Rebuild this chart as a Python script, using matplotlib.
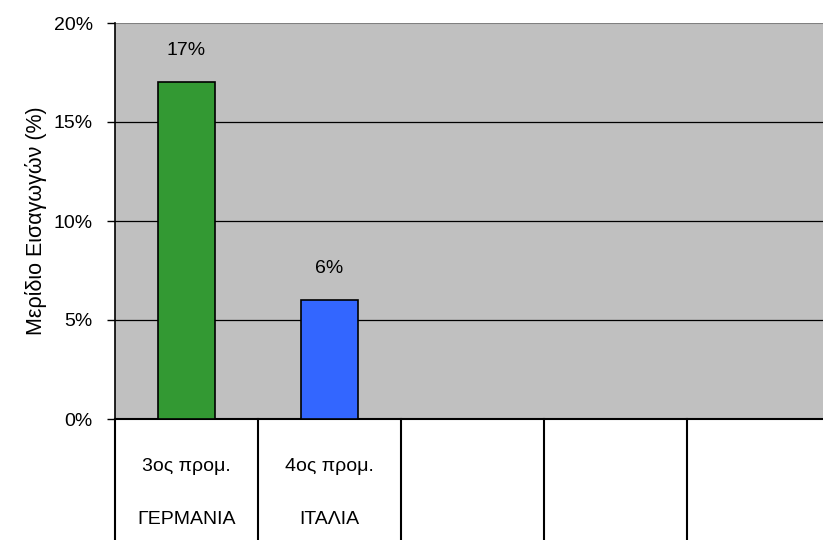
import matplotlib
matplotlib.use("Agg")
import matplotlib.pyplot as plt
from matplotlib.transforms import blended_transform_factory
import matplotlib.font_manager as fm

names = {f.name for f in fm.fontManager.ttflist}
fam = ['Liberation Sans Narrow'] if 'Liberation Sans Narrow' in names else ['Liberation Sans']
plt.rcParams['font.family'] = fam + ['DejaVu Sans']

# Data
periods = ["3ος προμ.", "4ος προμ.", "", "", ""]
countries = ["ΓΕΡΜΑΝΙΑ", "ΙΤΑΛΙΑ", "", "", ""]
shares = [17, 6]
bar_colors = ["#339933", "#3366FF"]
yticks = [0, 5, 10, 15, 20]
ytick_labels = ["0%", "5%", "10%", "15%", "20%"]
ylabel = "Μερίδιο Εισαγωγών (%)"

FS = 14
W, H = 823, 540
fig = plt.figure(figsize=(W/100, H/100), dpi=100)
left, right, top, bottom = 115, 830, 23, 419
ax = fig.add_axes([left/W, 1 - bottom/H, (right-left)/W, (bottom-top)/H])
ax.set_facecolor("#C0C0C0")
n = len(periods)
ax.set_xlim(-0.5, n - 0.5)
ax.set_ylim(0, 20)

for y in yticks[1:-1]:
    ax.axhline(y, color="black", lw=0.9, zorder=1)

ax.bar(range(len(shares)), shares, width=0.4, color=bar_colors,
       edgecolor="black", linewidth=1.2, zorder=3)
for i, v in enumerate(shares):
    ax.annotate(f"{v}%", (i, v), xytext=(0, 17), textcoords="offset points",
                ha="center", va="bottom", fontsize=FS)

ax.set_yticks(yticks)
ax.set_yticklabels(ytick_labels, fontsize=FS)
ax.tick_params(axis="y", direction="out", length=6, width=1, pad=10, color="black")
ax.set_xticks([])
ax.set_ylabel(ylabel, fontsize=15.5, labelpad=5)

for s in ["top", "right"]:
    ax.spines[s].set_visible(False)
ax.spines["left"].set_color("black")
ax.spines["left"].set_linewidth(1.2)
ax.spines["bottom"].set_color("black")
ax.spines["bottom"].set_linewidth(1.5)
ax.axhline(20, color="#808080", lw=1.5, zorder=2)

trans = blended_transform_factory(ax.transData, ax.transAxes)
for i in range(n + 1):
    ax.plot([i - 0.5, i - 0.5], [0, -0.35], transform=trans, color="black",
            lw=1.5, clip_on=False, zorder=5)
for i in range(n):
    ax.text(i, -0.119, periods[i], transform=trans, ha="center", va="center", fontsize=FS)
    ax.text(i, -0.255, countries[i], transform=trans, ha="center", va="center", fontsize=FS)

fig.savefig("out.png", dpi=100)
